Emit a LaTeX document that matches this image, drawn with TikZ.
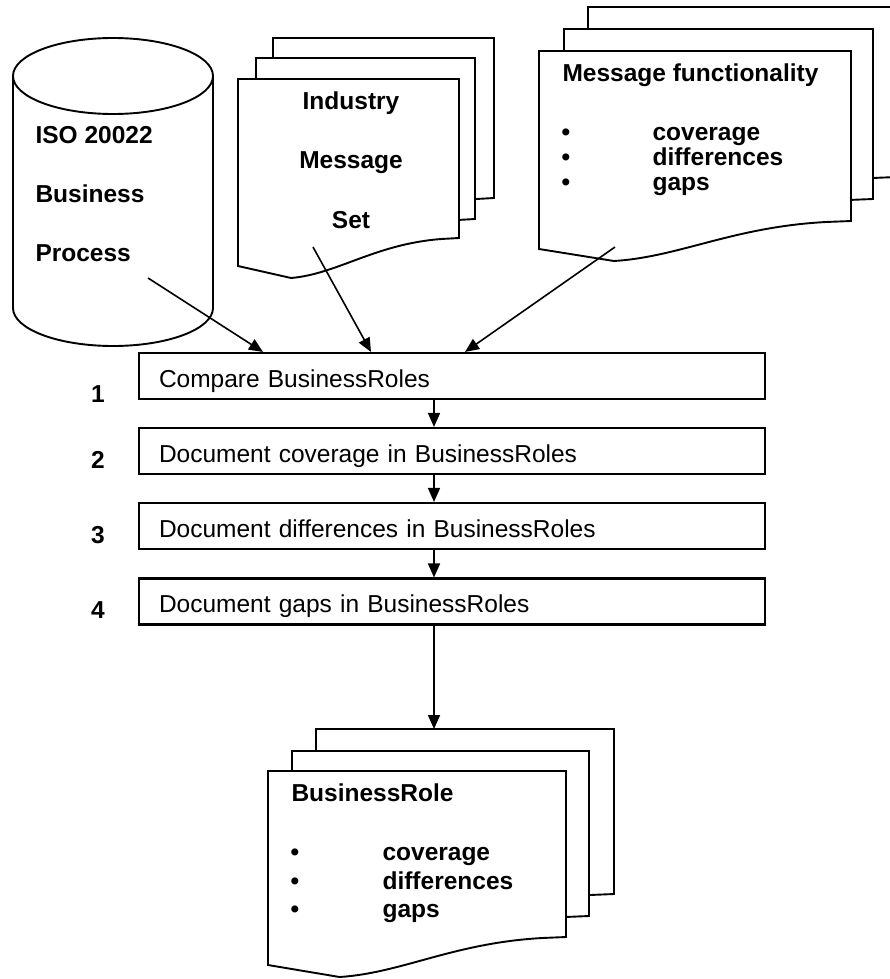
\documentclass[tikz,border=0pt]{standalone}
\usepackage{fontspec}
\setmainfont{Liberation Sans}
\usetikzlibrary{arrows.meta}

% one page of a "multiple documents" stack: left, top, right, bottom-right
\newcommand\docsheet[4]{%
  \filldraw[docpage] (#1,#2) -- (#3,#2) -- (#3,#4)
    -- ({#3-0.08*(#3-#1)},{#4+1})
    .. controls ({#1+0.62*(#3-#1)},{#4+6}) and ({#1+0.45*(#3-#1)},{#4+36}) ..
       ({#1+0.24*(#3-#1)},{#4+40})
    -- (#1,{#4+28}) -- cycle;}

\begin{document}
\begin{tikzpicture}[x=1pt,y=-1pt,
  outline/.style={line width=1.9pt, line join=miter},
  docpage/.style={outline, fill=white},
  heavy/.style={font=\fontsize{24.5}{29}\selectfont\bfseries},
  plain/.style={font=\fontsize{24.5}{29}\selectfont},
  stepbox/.style={draw, line width=2.1pt, plain, minimum width=626pt,
    minimum height=46pt, text width=586pt, inner xsep=20pt, inner ysep=0pt,
    text height=22pt, text depth=0pt, align=left},
  flow/.style={line width=1.6pt, -{Triangle[length=14pt,width=12pt]}}]
\useasboundingbox (0,0) rectangle (890,979);

% data store cylinder
\draw[outline, fill=white] (13,76) -- (13,308)
  arc[start angle=180, end angle=360, x radius=100pt, y radius=38pt] -- (213,76);
\draw[outline] (113,76) ellipse [x radius=100pt, y radius=38pt];
\node[heavy, anchor=base west] (iso1) at (32,143) {ISO 20022};
\node[heavy, anchor=base west] (iso2) at (32,202) {Business};
\node[heavy, anchor=base west] (iso3) at (32,261) {Process};

% industry message set
\docsheet{273}{38}{494}{198}
\docsheet{256}{58}{475}{219}
\docsheet{238}{79}{459}{238}
\node[heavy, anchor=base] (ind1) at (351,110) {Industry};
\node[heavy, anchor=base] (ind2) at (351,168) {Message};
\node[heavy, anchor=base] (ind3) at (351,228) {Set};

% message functionality
\docsheet{588}{7}{897}{177}
\docsheet{564}{29}{873}{199}
\docsheet{539}{51}{851}{221}
\node[heavy, anchor=base west] (mf0) at (559,82) {Message functionality};
\node[heavy, anchor=base west] (mfb1) at (558,140) {\textbullet};
\node[heavy, anchor=base west] (mfb2) at (558,165) {\textbullet};
\node[heavy, anchor=base west] (mfb3) at (558,190) {\textbullet};
\node[heavy, anchor=base west] (mf1) at (649,140) {coverage};
\node[heavy, anchor=base west] (mf2) at (649,165) {differences};
\node[heavy, anchor=base west] (mf3) at (649,190) {gaps};

% process steps
\node[stepbox] (box1) at (452,376) {Compare BusinessRoles};
\node[stepbox] (box2) at (452,451) {Document coverage in BusinessRoles};
\node[stepbox] (box3) at (452,526) {Document differences in BusinessRoles};
\node[stepbox] (box4) at (452,601.5) {Document gaps in BusinessRoles};
\node[heavy, anchor=base] (n1) at (98,402) {1};
\node[heavy, anchor=base] (n2) at (98,468) {2};
\node[heavy, anchor=base] (n3) at (98,543) {3};
\node[heavy, anchor=base] (n4) at (98,618) {4};

% resulting business roles
\docsheet{316}{729}{614}{894}
\docsheet{292}{751}{589}{916}
\docsheet{268}{771}{566}{937}
\node[heavy, anchor=base west] (br0) at (288,801) {BusinessRole};
\node[heavy, anchor=base west] (brb1) at (287,860) {\textbullet};
\node[heavy, anchor=base west] (brb2) at (287,889) {\textbullet};
\node[heavy, anchor=base west] (brb3) at (287,917) {\textbullet};
\node[heavy, anchor=base west] (br1) at (379,860) {coverage};
\node[heavy, anchor=base west] (br2) at (379,889) {differences};
\node[heavy, anchor=base west] (br3) at (379,917) {gaps};

% connectors
\coordinate (srcA) at (148,278);
\coordinate (srcB) at (313,247);
\coordinate (srcC) at (615,247);
\coordinate (tipA) at (263,0);
\coordinate (tipB) at (371,0);
\coordinate (tipC) at (465,0);
\coordinate (spine) at (434,0);
\coordinate (roletop) at (434,729);

\draw[flow] (srcA) -- (box1.north -| tipA);
\draw[flow] (srcB) -- (box1.north -| tipB);
\draw[flow] (srcC) -- (box1.north -| tipC);
\draw[flow] (box1.south -| spine) -- (box2.north -| spine);
\draw[flow] (box2.south -| spine) -- (box3.north -| spine);
\draw[flow] (box3.south -| spine) -- (box4.north -| spine);
\draw[flow] (box4.south -| spine) -- (roletop);
\end{tikzpicture}
\end{document}
